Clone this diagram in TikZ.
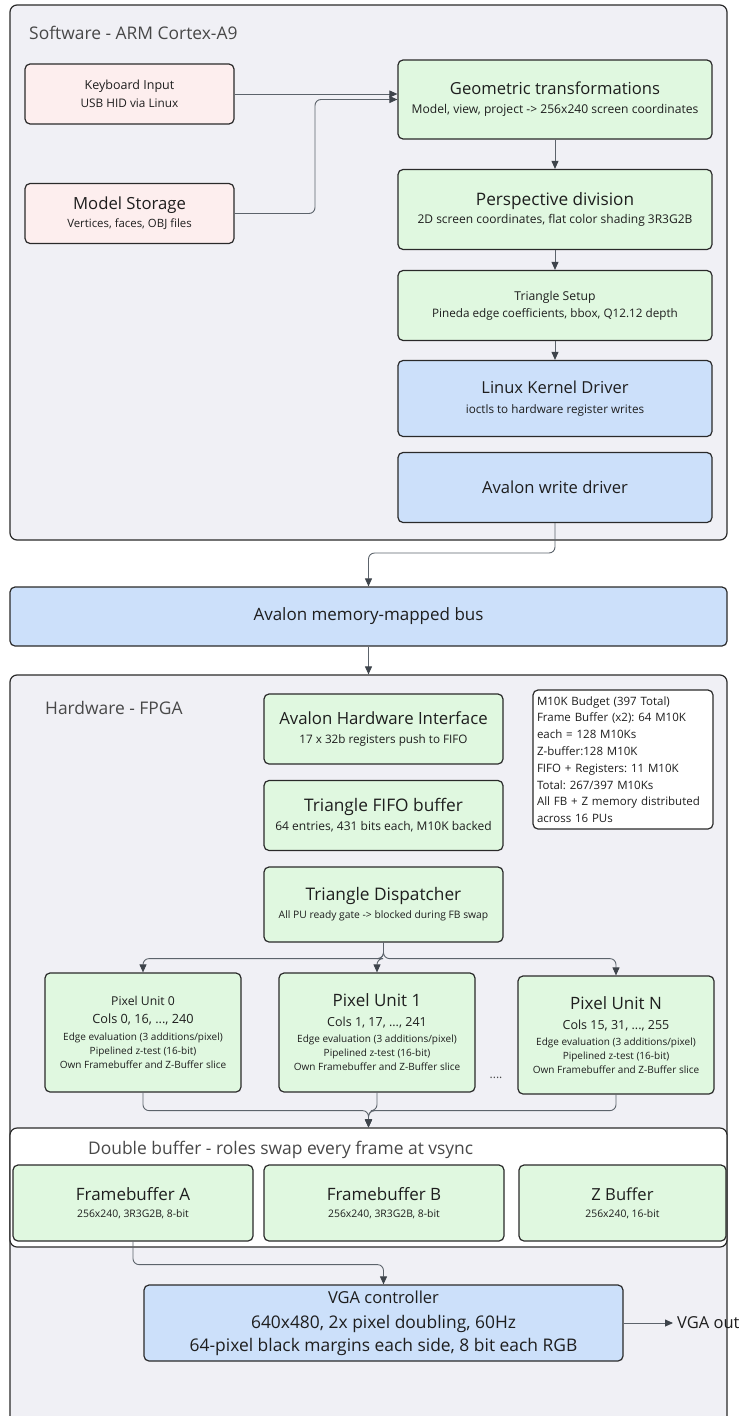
\documentclass[tikz,border=0pt]{standalone}
\usepackage{fontspec}
\setmainfont{Open Sans}
\usetikzlibrary{arrows.meta}

\definecolor{panelfill}{HTML}{F0F0F5}
\definecolor{pinkfill}{HTML}{FDEEEE}
\definecolor{greenfill}{HTML}{E0F8E0}
\definecolor{bluefill}{HTML}{CCE0FA}
\definecolor{edgecol}{HTML}{2A2A2A}
\definecolor{linkcol}{HTML}{5C636B}
\definecolor{headcol}{HTML}{3E444B}
\definecolor{inkcol}{HTML}{1E1E1E}
\definecolor{captioncol}{HTML}{484848}

\newcommand\setfs[2]{\fontsize{#1}{#2}\selectfont}

\tikzset{
  panel/.style={draw=edgecol, line width=1.2pt, rounded corners=7pt, fill=panelfill, inner sep=0pt},
  card/.style={draw=edgecol, line width=1.2pt, rounded corners=5pt, inner sep=0pt, align=center, text=inkcol},
  pinkcard/.style={card, fill=pinkfill},
  greencard/.style={card, fill=greenfill},
  bluecard/.style={card, fill=bluefill},
  caption/.style={inner sep=0pt, anchor=west, text=captioncol, font=\setfs{17.4}{20}},
  wh/.style 2 args={minimum width=#1, minimum height=#2},
  link/.style={draw=linkcol, line width=0.9pt, rounded corners=6pt,
    -{Triangle[length=8pt,width=7pt,color=headcol]}},
}

\begin{document}
\frenchspacing
\begin{tikzpicture}[x=1pt,y=-1pt]
\useasboundingbox (0,0) rectangle (742,1416);
\clip (0,0) rectangle (742,1416);

% ---------- software side ----------
\node[panel, wh={717}{535}] (sw) at (368.5,272.5) {};
\node[caption] (swtitle) at (29,33) {Software - ARM Cortex-A9};

\node[pinkcard, wh={209}{60}, font=\setfs{11.8}{17.5}] (kb) at (129.5,94)
  {{\setfs{12.5}{17.5}Keyboard Input}\\USB HID via Linux};
\node[pinkcard, wh={209}{60}, font=\setfs{11.4}{18.4}] (ms) at (129.5,213.5)
  {{\setfs{16.7}{18.4}Model Storage}\\Vertices, faces, OBJ files};

\node[greencard, wh={314}{79}, font=\setfs{12.1}{19.2}] (geo) at (555,99.5)
  {{\setfs{16.6}{19.2}Geometric transformations}\\Model, view, project -> 256x240 screen coordinates};
\node[greencard, wh={314}{80}, font=\setfs{12}{18.6}] (persp) at (555,209.5)
  {{\setfs{17.2}{18.6}Perspective division}\\2D screen coordinates, flat color shading 3R3G2B};
\node[greencard, wh={314}{70}, font=\setfs{11.7}{17.3}] (setup) at (555,305.5)
  {{\setfs{12.2}{17.3}Triangle Setup}\\Pineda edge coefficients, bbox, Q12.12 depth};
\node[bluecard, wh={314}{76}, font=\setfs{11.7}{19.4}] (kdrv) at (555,398.5)
  {{\setfs{16.5}{19.4}Linux Kernel Driver}\\ioctls to hardware register writes};
\node[bluecard, wh={314}{70}, font=\setfs{16.6}{19}] (wdrv) at (555,487.5)
  {Avalon write driver};

% ---------- bus ----------
\node[bluecard, wh={717}{59}, font=\setfs{17}{19}] (bus) at (368.5,616.5)
  {Avalon memory-mapped bus};

% ---------- hardware side ----------
\node[panel, wh={717}{780}] (hw) at (368.5,1065) {};
\node[caption] (hwtitle) at (45,708) {Hardware - FPGA};

\node[greencard, wh={239}{70}, font=\setfs{11.7}{19}] (ahi) at (383.5,729)
  {{\setfs{16.8}{19}Avalon Hardware Interface}\\17 x 32b registers push to FIFO};
\node[greencard, wh={239}{70}, font=\setfs{12}{19}] (fifo) at (383.5,815.5)
  {{\setfs{17.3}{19}Triangle FIFO buffer}\\64 entries, 431 bits each, M10K backed};
\node[greencard, wh={239}{75}, font=\setfs{10.3}{18}] (disp) at (383.5,904.5)
  {{\setfs{17.3}{18}Triangle Dispatcher}\\All PU ready gate -> blocked during FB swap};

\node[card, fill=white, align=left, text width=172pt, inner sep=4pt, minimum height=139,
      font=\setfs{11.5}{16.8}] (budget) at (623,759.5)
  {M10K Budget (397 Total)\\Frame Buffer (x2): 64 M10K\\each = 128 M10Ks\\Z-buffer:128 M10K\\
   FIFO + Registers: 11 M10K\\Total: 267/397 M10Ks\\All FB + Z memory distributed\\across 16 PUs};

\node[greencard, wh={196}{119}, font=\setfs{10}{14}] (pu0) at (143,1032.5)
  {{\setfs{12.2}{14}Pixel Unit 0}\\[4pt]{\setfs{12.7}{14}Cols 0, 16, ..., 240}\\[2.3pt]
   Edge evaluation (3 additions/pixel)\\Pipelined z-test (16-bit)\\Own Framebuffer and Z-Buffer slice};
\node[greencard, wh={196}{119}, font=\setfs{10}{14}] (pu1) at (377,1032.5)
  {{\setfs{17}{14}Pixel Unit 1}\\[5.6pt]{\setfs{12.5}{14}Cols 1, 17, ..., 241}\\[2.3pt]
   Edge evaluation (3 additions/pixel)\\Pipelined z-test (16-bit)\\Own Framebuffer and Z-Buffer slice};
\node[greencard, wh={196}{118}, font=\setfs{10}{14}] (puN) at (616,1035)
  {{\setfs{17}{14}Pixel Unit N}\\[5.6pt]{\setfs{12.5}{14}Cols 15, 31, ..., 255}\\[2.3pt]
   Edge evaluation (3 additions/pixel)\\Pipelined z-test (16-bit)\\Own Framebuffer and Z-Buffer slice};
\node[inner sep=0pt, text=captioncol, font=\setfs{12}{12}] (more) at (496,1078) {....};

% double buffer group
\node[panel, fill=white, wh={717}{119}] (dbuf) at (368.5,1187.5) {};
\node[caption] (dbtitle) at (88,1150)
  {Double buffer - roles swap every frame at vsync};
\node[greencard, wh={240}{76}, font=\setfs{10.4}{16.8}] (fba) at (133,1203)
  {{\setfs{17}{16.8}Framebuffer A}\\256x240, 3R3G2B, 8-bit};
\node[greencard, wh={240}{76}, font=\setfs{10.4}{16.8}] (fbb) at (384,1203)
  {{\setfs{17}{16.8}Framebuffer B}\\256x240, 3R3G2B, 8-bit};
\node[greencard, wh={207}{76}, font=\setfs{10.4}{16.8}] (zb) at (622.5,1203)
  {{\setfs{16.6}{16.8}Z Buffer}\\256x240, 16-bit};

\node[bluecard, wh={479}{76}, font=\setfs{17.4}{24}] (vga) at (383.5,1323)
  {{\setfs{16.5}{24}VGA controller}\\[1pt]640x480, 2x pixel doubling, 60Hz\\[-1pt]64-pixel black margins each side, 8 bit each RGB};
\node[inner xsep=4pt, inner ysep=0pt, anchor=west, text=inkcol, font=\setfs{16.5}{18}] (vgaout) at (673,1323) {VGA out};

% ---------- connectors ----------
\coordinate (msbend) at (315,0);
\coordinate (busbend) at (0,553);

\draw[link] (kb.east) -- (kb.east -| geo.west);
\draw[link] (ms.east) -| (msbend |- geo.west) -- (geo.west);
\draw[link] (geo.south) -- (persp.north);
\draw[link] (persp.south) -- (setup.north);
\draw[link] (setup.south) -- (kdrv.north);
\draw[link] (wdrv.south) |- (busbend -| bus.north) -- (bus.north);
\draw[link] (bus.south) -- (hw.north);

\draw[link] (disp.south) -- ++(0,16) -| (pu0.north);
\draw[link] (disp.south) -- ++(0,16) -| (pu1.north);
\draw[link] (disp.south) -- ++(0,16) -| (puN.north);

\draw[link] (pu0.south) -- ++(0,18) -| (dbuf.north);
\draw[link] (pu1.south) -- ++(0,18) -| (dbuf.north);
\draw[link] (puN.south) -- ++(0,16) -| (dbuf.north);

\draw[link] (fba.south) -- ++(0,23) -| (vga.north);
\draw[link] (vga.east) -- (vgaout.west);
\end{tikzpicture}
\end{document}
